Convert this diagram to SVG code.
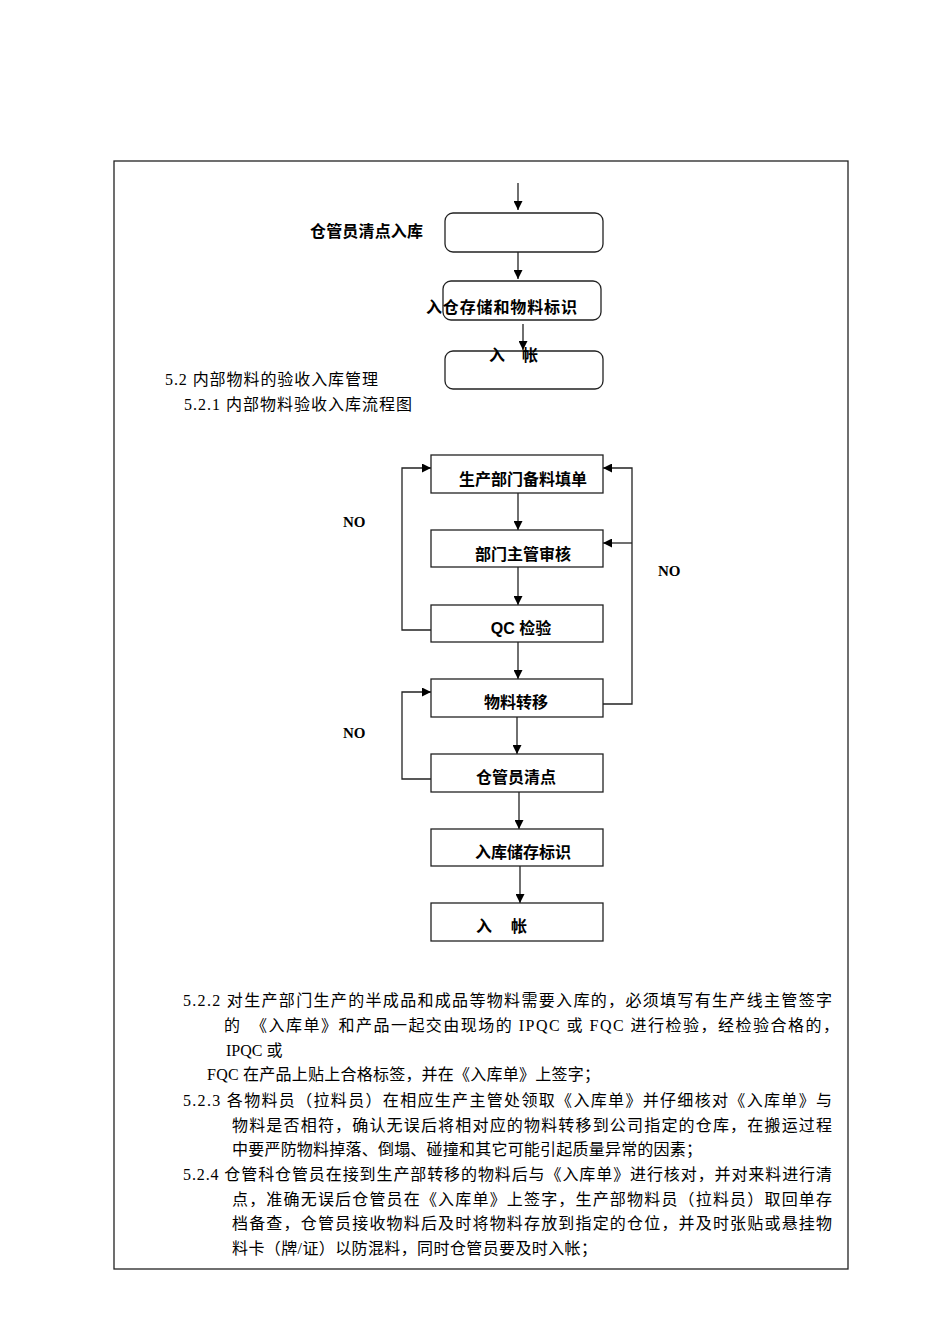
<svg xmlns="http://www.w3.org/2000/svg" width="950" height="1344" viewBox="0 0 950 1344">
<defs>
<marker id="ah" viewBox="0 0 10 10" refX="10" refY="5" markerWidth="9" markerHeight="9" markerUnits="userSpaceOnUse" orient="auto">
<path d="M0,0 L10,5 L0,10 Z" fill="#000"/>
</marker>
<style>
.box{fill:#fff;stroke:#222;stroke-width:1.3}
.rbox{fill:#fff;stroke:#222;stroke-width:1.3}
.con{fill:none;stroke:#222;stroke-width:1.3}
.arr{fill:none;stroke:#222;stroke-width:1.3;marker-end:url(#ah)}
.lbl{font-family:"Liberation Sans","Noto Sans CJK SC",sans-serif;font-size:16px;font-weight:bold;fill:#000}
.no{font-family:"Liberation Serif",serif;font-size:15px;font-weight:bold;fill:#000}
.body{font-family:"Liberation Serif","Noto Sans CJK SC",serif;font-size:16px;fill:#000}
</style>
</defs>
<rect x="114" y="161" width="734" height="1108" fill="#fff" stroke="#222" stroke-width="1.3"/>

<g id="connectors">
<line class="arr" x1="518" y1="183" x2="518" y2="210"/>
<line class="arr" x1="518" y1="252" x2="518" y2="279"/>
<line class="arr" x1="523" y1="324" x2="523" y2="350"/>
<line class="arr" x1="518" y1="493" x2="518" y2="530"/>
<line class="arr" x1="518" y1="567" x2="518" y2="605"/>
<line class="arr" x1="518" y1="642" x2="518" y2="679"/>
<line class="arr" x1="517" y1="717" x2="517" y2="754"/>
<line class="arr" x1="519" y1="792" x2="519" y2="829"/>
<line class="arr" x1="520" y1="866" x2="520" y2="903"/>
<path class="arr" d="M431,630 H402 V468 H431"/>
<path class="arr" d="M603,704 H632 V468 H603"/>
<path class="arr" d="M632,543 H603"/>
<path class="arr" d="M431,779 H402 V692 H431"/>
</g>

<g id="top-box1"><rect class="rbox" x="445" y="213" width="158" height="39" rx="8"/></g>
<g id="top-box2"><rect class="rbox" x="443" y="281" width="158" height="39" rx="8"/></g>
<g id="top-box3"><rect class="rbox" x="445" y="351" width="158" height="38" rx="8"/></g>
<g id="top-labels">
<text class="lbl" x="310" y="237" textLength="113">仓管员清点入库</text>
<text class="lbl" x="426" y="313" textLength="151">入仓存储和物料标识</text>
<text class="lbl" x="489" y="361" textLength="49">入　帐</text>
</g>

<g id="headings">
<text class="body" x="165" y="385" textLength="213">5.2 内部物料的验收入库管理</text>
<text class="body" x="184" y="410" textLength="228">5.2.1 内部物料验收入库流程图</text>
</g>

<g id="n1"><rect class="box" x="431" y="455" width="172" height="38"/><text class="lbl" x="523" y="485" text-anchor="middle">生产部门备料填单</text></g>
<g id="n2"><rect class="box" x="431" y="530" width="172" height="37"/><text class="lbl" x="523" y="560" text-anchor="middle">部门主管审核</text></g>
<g id="n3"><rect class="box" x="431" y="605" width="172" height="37"/><text class="lbl" x="521" y="634" text-anchor="middle">QC 检验</text></g>
<g id="n4"><rect class="box" x="431" y="679" width="172" height="38"/><text class="lbl" x="516" y="708" text-anchor="middle">物料转移</text></g>
<g id="n5"><rect class="box" x="431" y="754" width="172" height="38"/><text class="lbl" x="516" y="783" text-anchor="middle">仓管员清点</text></g>
<g id="n6"><rect class="box" x="431" y="829" width="172" height="37"/><text class="lbl" x="523" y="858" text-anchor="middle">入库储存标识</text></g>
<g id="n7"><rect class="box" x="431" y="903" width="172" height="38"/><text class="lbl" x="476" y="932" textLength="51">入　帐</text></g>

<g id="no-labels">
<text class="no" x="343" y="527">NO</text>
<text class="no" x="658" y="576">NO</text>
<text class="no" x="343" y="738">NO</text>
</g>

<g id="paragraphs">
<text class="body" x="183" y="1006" textLength="649">5.2.2 对生产部门生产的半成品和成品等物料需要入库的，必须填写有生产线主管签字</text>
<text class="body" x="224" y="1031" textLength="615">的　《入库单》和产品一起交由现场的 IPQC 或 FQC 进行检验，经检验合格的，</text>
<text class="body" x="226" y="1056">IPQC 或</text>
<text class="body" x="207" y="1080" textLength="393">FQC 在产品上贴上合格标签，并在《入库单》上签字；</text>
<text class="body" x="183" y="1106" textLength="649">5.2.3 各物料员（拉料员）在相应生产主管处领取《入库单》并仔细核对《入库单》与</text>
<text class="body" x="232" y="1131" textLength="600">物料是否相符，确认无误后将相对应的物料转移到公司指定的仓库，在搬运过程</text>
<text class="body" x="232" y="1155" textLength="470">中要严防物料掉落、倒塌、碰撞和其它可能引起质量异常的因素；</text>
<text class="body" x="183" y="1180" textLength="649">5.2.4 仓管科仓管员在接到生产部转移的物料后与《入库单》进行核对，并对来料进行清</text>
<text class="body" x="232" y="1205" textLength="600">点，准确无误后仓管员在《入库单》上签字，生产部物料员（拉料员）取回单存</text>
<text class="body" x="232" y="1229" textLength="600">档备查，仓管员接收物料后及时将物料存放到指定的仓位，并及时张贴或悬挂物</text>
<text class="body" x="232" y="1254" textLength="365">料卡（牌/证）以防混料，同时仓管员要及时入帐；</text>
</g>
</svg>
